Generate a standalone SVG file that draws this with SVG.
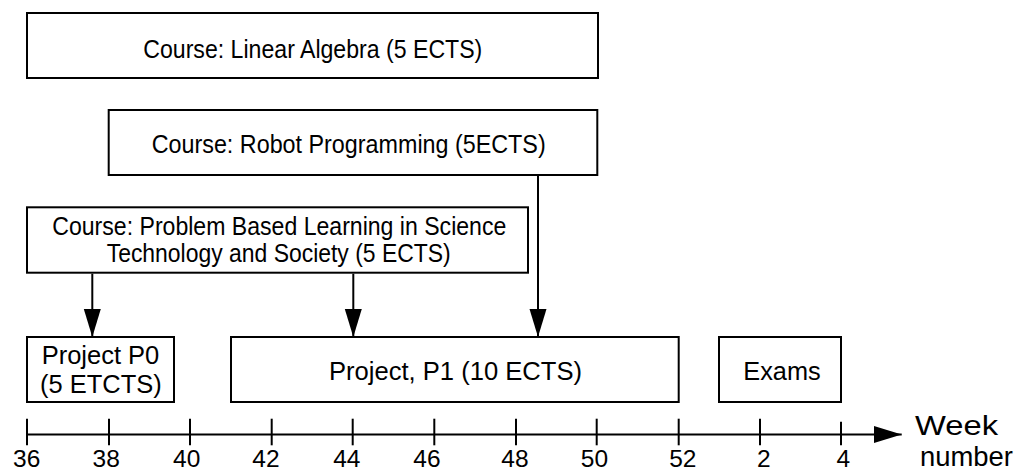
<svg xmlns="http://www.w3.org/2000/svg" width="1017" height="472" viewBox="0 0 1017 472">
<style>
  rect.box { fill: #ffffff; stroke: #000000; stroke-width: 2; }
  text { font-family: "Liberation Sans", Arial, sans-serif; fill: #000000; }
  .course { font-size: 25px; }
  .proj { font-size: 25.5px; }
  .tick { font-size: 24.5px; text-anchor: middle; }
  .axisname { font-size: 28px; }
  line.conn { stroke: #000000; stroke-width: 2; fill: none; }
</style>
<defs>
  <marker id="arrow" markerUnits="userSpaceOnUse" markerWidth="28" markerHeight="18" refX="28" refY="8.5" orient="auto">
    <path d="M0,0 L28,8.5 L0,17 Z" fill="#000000"/>
  </marker>
</defs>
<rect x="0" y="0" width="1017" height="472" fill="#ffffff"/>

<g id="linear-algebra">
  <rect class="box" x="27" y="13" width="571" height="65"/>
  <text class="course" x="143.3" y="58.3" textLength="339" lengthAdjust="spacingAndGlyphs">Course: Linear Algebra (5 ECTS)</text>
</g>

<g id="robot-programming">
  <rect class="box" x="108.7" y="110" width="488.6" height="65"/>
  <text class="course" x="151.7" y="153.3" textLength="394" lengthAdjust="spacingAndGlyphs">Course: Robot Programming (5ECTS)</text>
</g>

<g id="pbl">
  <rect class="box" x="27" y="207.3" width="501" height="65.4"/>
  <text class="course" x="52.3" y="235" textLength="454" lengthAdjust="spacingAndGlyphs">Course: Problem Based Learning in Science</text>
  <text class="course" x="106.7" y="261.7" textLength="344" lengthAdjust="spacingAndGlyphs">Technology and Society (5 ECTS)</text>
</g>

<g id="project-p0">
  <rect class="box" x="27" y="337" width="147" height="65"/>
  <text class="proj" x="41.7" y="364.3" textLength="117.6" lengthAdjust="spacingAndGlyphs">Project P0</text>
  <text class="proj" x="40" y="393.3" textLength="121.7" lengthAdjust="spacingAndGlyphs">(5 ETCTS)</text>
</g>

<g id="project-p1">
  <rect class="box" x="231" y="337" width="447.7" height="65"/>
  <text class="proj" x="329" y="380" textLength="253" lengthAdjust="spacingAndGlyphs">Project, P1 (10 ECTS)</text>
</g>

<g id="exams">
  <rect class="box" x="719" y="337" width="122" height="65"/>
  <text class="proj" x="743.3" y="380" textLength="77.4" lengthAdjust="spacingAndGlyphs">Exams</text>
</g>

<g id="connectors">
  <line class="conn" x1="92.3" y1="273.7" x2="92.3" y2="337" marker-end="url(#arrow)"/>
  <line class="conn" x1="353.3" y1="273.7" x2="353.3" y2="337" marker-end="url(#arrow)"/>
  <line class="conn" x1="538" y1="176" x2="538" y2="337" marker-end="url(#arrow)"/>
</g>

<g id="axis">
  <line class="conn" x1="27" y1="434.5" x2="901.7" y2="434.5" marker-end="url(#arrow)"/>
  <line class="conn" x1="27" y1="418.7" x2="27" y2="445.3"/>
  <line class="conn" x1="109" y1="418.7" x2="109" y2="445.3"/>
  <line class="conn" x1="190" y1="418.7" x2="190" y2="445.3"/>
  <line class="conn" x1="271.7" y1="418.7" x2="271.7" y2="445.3"/>
  <line class="conn" x1="352.7" y1="418.7" x2="352.7" y2="445.3"/>
  <line class="conn" x1="434.3" y1="418.7" x2="434.3" y2="445.3"/>
  <line class="conn" x1="516" y1="418.7" x2="516" y2="445.3"/>
  <line class="conn" x1="596.7" y1="418.7" x2="596.7" y2="445.3"/>
  <line class="conn" x1="678.7" y1="418.7" x2="678.7" y2="445.3"/>
  <line class="conn" x1="760" y1="418.7" x2="760" y2="445.3"/>
  <line class="conn" x1="841" y1="421.7" x2="841" y2="445.3"/>
  <text class="tick" x="26.7" y="466.5">36</text>
  <text class="tick" x="106.2" y="466.5">38</text>
  <text class="tick" x="186.7" y="466.5">40</text>
  <text class="tick" x="266" y="466.5">42</text>
  <text class="tick" x="346.8" y="466.5">44</text>
  <text class="tick" x="427" y="466.5">46</text>
  <text class="tick" x="515" y="466.5">48</text>
  <text class="tick" x="594.5" y="466.5">50</text>
  <text class="tick" x="682.8" y="466.5">52</text>
  <text class="tick" x="763.7" y="466.5">2</text>
  <text class="tick" x="843.3" y="466.5">4</text>
  <text class="axisname" x="915" y="435" textLength="83" lengthAdjust="spacingAndGlyphs">Week</text>
  <text class="axisname" x="920" y="465.5" textLength="93" lengthAdjust="spacingAndGlyphs">number</text>
</g>
</svg>
